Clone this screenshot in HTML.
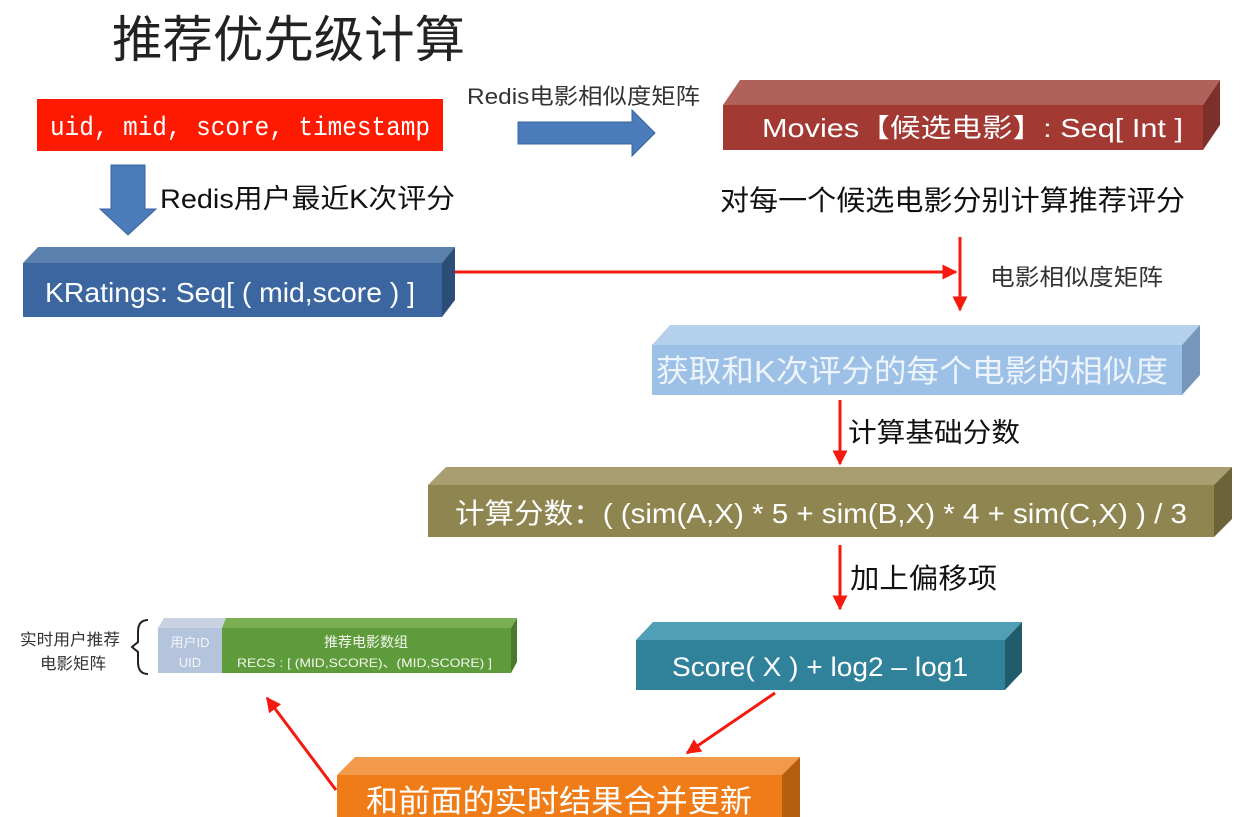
<!DOCTYPE html>
<html><head><meta charset="utf-8"><style>
html,body{margin:0;padding:0;background:#fff;width:1256px;height:817px;overflow:hidden}
text{font-family:"Liberation Sans","Noto Sans CJK SC",sans-serif}
</style></head><body>
<svg width="1256" height="817" viewBox="0 0 1256 817" xmlns="http://www.w3.org/2000/svg">
<defs>
<marker id="ar" viewBox="0 0 10 10" refX="9" refY="5" markerWidth="5" markerHeight="5" orient="auto"><path d="M0,0 L10,5 L0,10 z" fill="#f41a0e"/></marker>
</defs>
<text x="112" y="57" font-size="50" fill="#222" textLength="353" lengthAdjust="spacingAndGlyphs">推荐优先级计算</text>

<rect x="37" y="99" width="406" height="52" fill="#fe1a00"/>
<text x="50" y="135" font-size="27" fill="#fff" style="font-family:'Liberation Mono',monospace" textLength="380" lengthAdjust="spacingAndGlyphs">uid, mid, score, timestamp</text>

<text x="467" y="104" font-size="22" fill="#333" textLength="233" lengthAdjust="spacingAndGlyphs">Redis电影相似度矩阵</text>
<path d="M518,122 H632 V110 L655,133 L632,156 V144 H518 z" fill="#4a7bbb" stroke="#3a659c"/>

<path d="M111,165 H145 V209 H156 L128,235 L100,209 H111 z" fill="#4a7bbb" stroke="#3a659c"/>
<text x="160" y="208" font-size="27" fill="#111" textLength="295" lengthAdjust="spacingAndGlyphs">Redis用户最近K次评分</text>

<!-- Movies -->
<polygon points="723,105 740,80 1220,80 1203,105" fill="#b0615a"/>
<polygon points="1203,105 1220,80 1220,125 1203,150" fill="#7d302b"/>
<rect x="723" y="105" width="480" height="45" fill="#a23a33"/>
<text x="762" y="137" font-size="26" fill="#fff" textLength="421" lengthAdjust="spacingAndGlyphs">Movies【候选电影】: Seq[ Int ]</text>
<text x="720" y="210" font-size="28" fill="#111" textLength="465" lengthAdjust="spacingAndGlyphs">对每一个候选电影分别计算推荐评分</text>

<!-- KRatings -->
<polygon points="23,263 38,247 455,247 442,263" fill="#5a80ad"/>
<polygon points="442,263 455,247 455,300 442,317" fill="#2c4d78"/>
<rect x="23" y="263" width="419" height="54" fill="#3c66a0"/>
<text x="45" y="302" font-size="28" fill="#fff" textLength="370" lengthAdjust="spacingAndGlyphs">KRatings: Seq[ ( mid,score ) ]</text>

<line x1="455" y1="272" x2="956" y2="272" stroke="#f41a0e" stroke-width="3" marker-end="url(#ar)"/>
<line x1="960" y1="237" x2="960" y2="310" stroke="#f41a0e" stroke-width="3" marker-end="url(#ar)"/>
<text x="990" y="285" font-size="23" fill="#333" textLength="173" lengthAdjust="spacingAndGlyphs">电影相似度矩阵</text>

<!-- light blue -->
<polygon points="652,345 670,325 1200,325 1182,345" fill="#b5d0ec"/>
<polygon points="1182,345 1200,325 1200,375 1182,395" fill="#7696bc"/>
<rect x="652" y="345" width="530" height="50" fill="#9dc0e6"/>
<text x="656" y="382" font-size="31" fill="#eef4fb" textLength="512" lengthAdjust="spacingAndGlyphs">获取和K次评分的每个电影的相似度</text>

<line x1="840" y1="400" x2="840" y2="464" stroke="#f41a0e" stroke-width="3" marker-end="url(#ar)"/>
<text x="848" y="442" font-size="27" fill="#111" textLength="172" lengthAdjust="spacingAndGlyphs">计算基础分数</text>

<!-- olive -->
<polygon points="428,485 446,467 1232,467 1214,485" fill="#a89e70"/>
<polygon points="1214,485 1232,467 1232,519 1214,537" fill="#6c6339"/>
<rect x="428" y="485" width="786" height="52" fill="#8f8550"/>
<text x="455" y="523" font-size="28" fill="#fff" textLength="732" lengthAdjust="spacingAndGlyphs">计算分数：( (sim(A,X) * 5 + sim(B,X) * 4 + sim(C,X) ) / 3</text>

<line x1="840" y1="545" x2="840" y2="609" stroke="#f41a0e" stroke-width="3" marker-end="url(#ar)"/>
<text x="850" y="588" font-size="28" fill="#111" textLength="147" lengthAdjust="spacingAndGlyphs">加上偏移项</text>

<!-- teal -->
<polygon points="636,640 653,622 1022,622 1005,640" fill="#4fa0b6"/>
<polygon points="1005,640 1022,622 1022,672 1005,690" fill="#215c6d"/>
<rect x="636" y="640" width="369" height="50" fill="#2f829a"/>
<text x="672" y="676" font-size="27" fill="#fff" textLength="296" lengthAdjust="spacingAndGlyphs">Score( X ) + log2 – log1</text>

<line x1="775" y1="693" x2="687" y2="753" stroke="#f41a0e" stroke-width="3" marker-end="url(#ar)"/>

<!-- orange -->
<polygon points="337,775 355,757 800,757 782,775" fill="#f39a4a"/>
<polygon points="782,775 800,757 800,817 782,817" fill="#b45e10"/>
<rect x="337" y="775" width="445" height="42" fill="#ef7c17"/>
<text x="366" y="812" font-size="31" fill="#fff" textLength="386" lengthAdjust="spacingAndGlyphs">和前面的实时结果合并更新</text>

<line x1="336" y1="790" x2="267" y2="698" stroke="#f41a0e" stroke-width="3" marker-end="url(#ar)"/>

<!-- green bar -->
<text x="20" y="645" font-size="16" fill="#333" textLength="100" lengthAdjust="spacingAndGlyphs">实时用户推荐</text>
<text x="40" y="669" font-size="16" fill="#333" textLength="66" lengthAdjust="spacingAndGlyphs">电影矩阵</text>
<path d="M148,620 Q138,620 138,632 V642 L132,647 L138,652 V662 Q138,674 148,674" fill="none" stroke="#222" stroke-width="2"/>
<polygon points="158,628 164,618 226,618 222,628" fill="#c8d2e0"/>
<polygon points="222,628 226,618 517,618 511,628" fill="#7aae52"/>
<polygon points="511,628 517,618 517,662 511,673" fill="#4b7a2a"/>
<rect x="158" y="628" width="64" height="45" fill="#b4c4dc"/>
<rect x="222" y="628" width="289" height="45" fill="#5e9b3b"/>
<text x="190" y="647" font-size="13" fill="#f4f6fa" text-anchor="middle">用户ID</text>
<text x="190" y="667" font-size="13" fill="#f4f6fa" text-anchor="middle">UID</text>
<text x="366" y="647" font-size="14" fill="#f4f8ef" text-anchor="middle">推荐电影数组</text>
<text x="237" y="667" font-size="12" fill="#f4f8ef" textLength="255" lengthAdjust="spacingAndGlyphs">RECS : [ (MID,SCORE)、(MID,SCORE) ]</text>
</svg>
</body></html>
